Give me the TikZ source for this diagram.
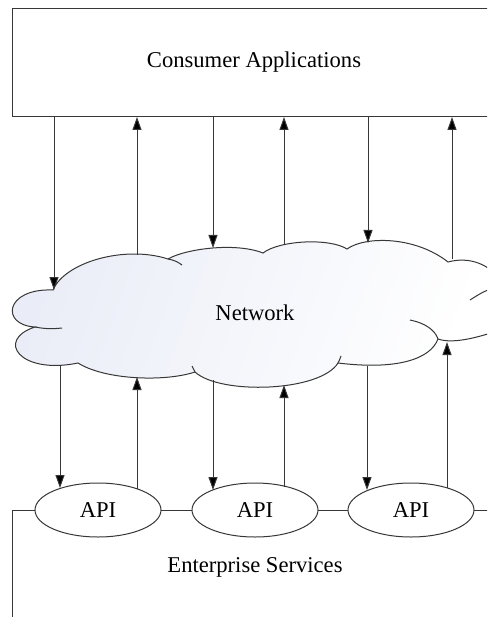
\documentclass[tikz,border=0pt]{standalone}
\usepackage{fontspec}
\setmainfont{Liberation Serif}
\usetikzlibrary{arrows.meta,shapes.geometric}
\definecolor{linec}{RGB}{55,55,55}
\definecolor{cloudl}{RGB}{234,237,247}
\tikzset{
  ln/.style={draw=linec, line width=1pt},
  arr/.style={ln, -{Triangle[length=13pt,width=9pt,fill=black]}},
  apinode/.style={ellipse, ln, fill=white, minimum width=126pt, minimum height=54pt, inner sep=0pt},
  lbl/.style={font=\fontsize{22.6}{27}\selectfont, text=black, inner sep=0pt}
}
\begin{document}
\begin{tikzpicture}[x=1pt,y=-1pt]
\useasboundingbox (0,0) rectangle (487,617);
\clip (0,0) rectangle (487,617);
\fill[white] (0,0) rectangle (487,617);

% Consumer Applications box
\node[ln, rectangle, anchor=north west, minimum width=500pt, minimum height=108pt, inner sep=0pt] (cons) at (12,8) {};
\node[lbl] (constext) at (254,62) {Consumer Applications};

% Enterprise services box
\draw[ln] (12,640) -- (12,510) -- (520,510);
\node[lbl] (enttext) at (255,567) {Enterprise Services};

% Cloud
\path[ln, left color=cloudl, right color=white, shading angle=70]
 (53,290)
 .. controls (65,262) and (125,245) .. (168,259)
 .. controls (185,249) and (235,242) .. (263,253)
 .. controls (280,240) and (330,238) .. (347,249)
 .. controls (365,236) and (415,236) .. (448,262)
 .. controls (470,256) and (490,265) .. (500,280)
 -- (500,330)
 .. controls (485,335) and (455,345) .. (438,339)
 .. controls (430,360) and (395,370) .. (338,363)
 .. controls (320,392) and (220,395) .. (195,372)
 .. controls (165,382) and (105,380) .. (78,363)
 .. controls (20,375) and (-5,340) .. (35,327)
 .. controls (0,325) and (5,288) .. (53,290)
 -- cycle;
% cloud inner tails
\draw[ln] (168,259) .. controls (174,260) and (178,262) .. (182,265);
\draw[ln] (35,327) .. controls (45,329) and (53,329) .. (62,328);
\draw[ln] (192,366) .. controls (193,368) and (194,370) .. (195,372);
\draw[ln] (338,363) .. controls (339,361) and (340,359) .. (341,356);
\draw[ln] (410,320) .. controls (425,323) and (435,330) .. (438,339);
\draw[ln] (470,300) .. controls (478,295) and (485,290) .. (495,288);
\node[lbl] (nettext) at (255,313) {Network};

% cloud connection points
\coordinate (ct1) at (54,290);
\coordinate (ct2) at (137,255);
\coordinate (ct3) at (213,248);
\coordinate (ct4) at (284,244);
\coordinate (ct5) at (368,243);
\coordinate (ct6) at (452,259);
\coordinate (cb1) at (60,365);
\coordinate (cb2) at (137,377);
\coordinate (cb3) at (213,380);
\coordinate (cb4) at (284,385);
\coordinate (cb5) at (367,366);
\coordinate (cb6) at (447,342);

% API ellipses
\node[apinode, lbl] (api1) at (98,510) {API};
\node[apinode, lbl] (api2) at (255,510) {API};
\node[apinode, lbl] (api3) at (411,510) {API};
\coordinate (a1) at (60,488);
\coordinate (a2) at (137,489);
\coordinate (a3) at (213,490);
\coordinate (a4) at (284,487);
\coordinate (a5) at (367,490);
\coordinate (a6) at (447,488);

% arrows top
\draw[arr] (cons.south -| ct1) -- (ct1);
\draw[arr] (ct2) -- (cons.south -| ct2);
\draw[arr] (cons.south -| ct3) -- (ct3);
\draw[arr] (ct4) -- (cons.south -| ct4);
\draw[arr] (cons.south -| ct5) -- (ct5);
\draw[arr] (ct6) -- (cons.south -| ct6);

% arrows bottom
\draw[arr] (cb1) -- (a1);
\draw[arr] (a2) -- (cb2);
\draw[arr] (cb3) -- (a3);
\draw[arr] (a4) -- (cb4);
\draw[arr] (cb5) -- (a5);
\draw[arr] (a6) -- (cb6);
\end{tikzpicture}
\end{document}
